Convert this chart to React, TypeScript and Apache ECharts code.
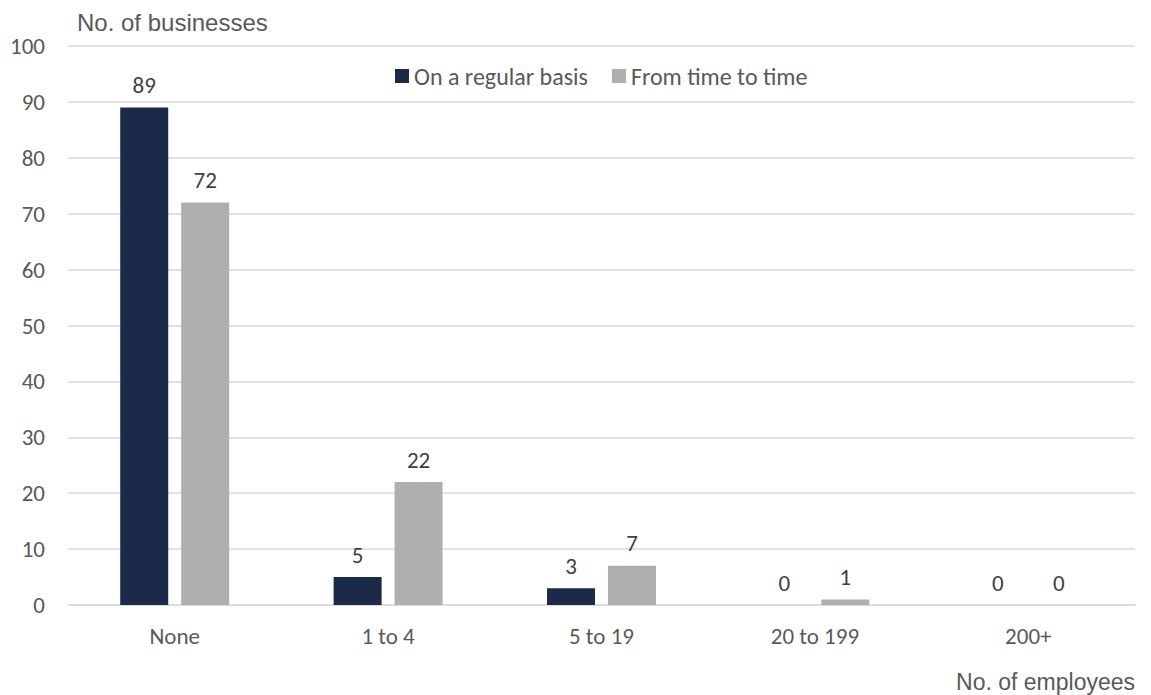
import React, { useEffect, useRef } from "react";
import * as echarts from "echarts";

const categories = ["None", "1 to 4", "5 to 19", "20 to 199", "200+"];
const regular = [89, 5, 3, 0, 0];
const occasional = [72, 22, 7, 1, 0];
const seriesNames = ["On a regular basis", "From time to time"];
const yTitle = "No. of businesses";
const xTitle = "No. of employees";

const TEXT = "#595959";
const LABEL_FONT = "Carlito, 'Open Sans', 'Noto Sans', sans-serif";
const ARIAL = "'Liberation Sans', Arial, sans-serif";

export default function App() {
  const ref = useRef<HTMLDivElement>(null);
  useEffect(() => {
    if (!ref.current) return;
    const chart = echarts.init(ref.current, null, { renderer: "svg" });
    chart.setOption({
      animation: false,
      textStyle: { fontFamily: LABEL_FONT },
      grid: { left: 68, right: 16, top: 46, bottom: 90, containLabel: false },
      legend: {
        top: 59,
        left: 390,
        itemWidth: 14,
        itemHeight: 14,
        itemGap: 24,
        icon: "rect",
        textStyle: { color: TEXT, fontSize: 24, fontFamily: LABEL_FONT },
        data: seriesNames,
      },
      graphic: [
        {
          type: "text",
          left: 77,
          top: 10,
          style: { text: yTitle, fill: TEXT, fontSize: 24, fontFamily: ARIAL },
        },
        {
          type: "text",
          right: 16,
          top: 670,
          style: { text: xTitle, fill: TEXT, fontSize: 23, fontFamily: ARIAL },
        },
      ],
      xAxis: {
        type: "category",
        data: categories,
        axisLine: { lineStyle: { color: "#D9D9D9", width: 1.5 } },
        axisTick: { show: false },
        axisLabel: { color: TEXT, fontSize: 23, margin: 19, fontFamily: LABEL_FONT },
      },
      yAxis: {
        type: "value",
        min: 0,
        max: 100,
        interval: 10,
        axisLine: { show: false },
        axisTick: { show: false },
        splitLine: { lineStyle: { color: "#D9D9D9", width: 1.5 } },
        axisLabel: { color: TEXT, fontSize: 23, margin: 23, fontFamily: LABEL_FONT },
      },
      series: [
        {
          name: seriesNames[0],
          type: "bar",
          data: regular,
          barWidth: 48,
          barGap: "27%",
          itemStyle: { color: "#1B2A49" },
          label: { show: true, position: "top", distance: 11, color: "#404040", fontSize: 23, fontFamily: LABEL_FONT },
        },
        {
          name: seriesNames[1],
          type: "bar",
          data: occasional,
          barWidth: 48,
          itemStyle: { color: "#B0AFAE" },
          label: { show: true, position: "top", distance: 11, color: "#404040", fontSize: 23, fontFamily: LABEL_FONT },
        },
      ],
    });
    return () => chart.dispose();
  }, []);
  return <div ref={ref} style={{ width: 1151, height: 695, position: "absolute", left: 0, top: 0 }} />;
}
